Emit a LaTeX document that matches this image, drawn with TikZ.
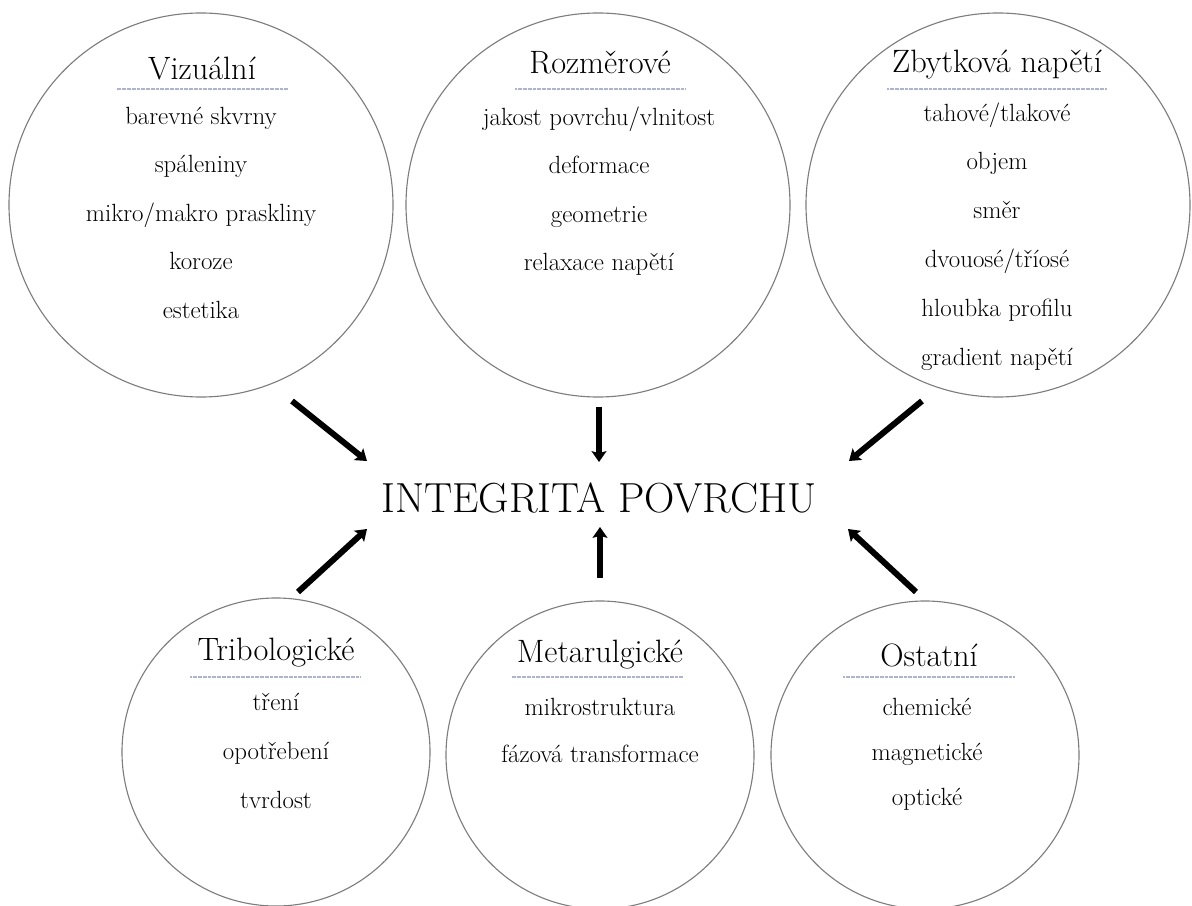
\documentclass[tikz,border=0pt]{standalone}
\usepackage{fontspec}
\usetikzlibrary{arrows.meta,positioning}

\definecolor{rim}{RGB}{125,125,125}
\definecolor{dotline}{RGB}{175,180,205}

\tikzset{
  group/.style={circle, draw=rim, line width=0.28mm, inner sep=0pt},
  heading/.style={anchor=base, font=\fontsize{23}{26}\selectfont},
  item/.style={font=\fontsize{17.7}{20}\selectfont, text height=0.7em, text depth=0.25em, inner sep=0pt},
  hub/.style={font=\fontsize{29.9}{33}\selectfont, inner sep=0pt},
  rule/.style={dotline, line width=0.3mm, dash pattern=on 0.4pt off 0.5pt},
  push/.style={line width=1.5mm, -{Stealth[length=2.7mm,width=3.7mm,inset=0.5mm]}}
}

\begin{document}
\begin{tikzpicture}[x=0.25mm, y=-0.25mm]

\useasboundingbox (0,0) rectangle (1192,906);

% the six groups
\node [group, minimum size=96mm] (viz) at (201,205) {};
\node [group, minimum size=96mm] (roz) at (598,205) {};
\node [group, minimum size=96mm] (zbyt) at (998,205) {};
\node [group, minimum size=77mm] (tri) at (276,752) {};
\node [group, minimum size=77mm] (met) at (600,755) {};
\node [group, minimum size=77mm] (ost) at (925,755) {};

% headings
\node [heading] (viz-t) at (202,80) {Vizuální};
\node [heading] (roz-t) at (600,74) {Rozměrové};
\node [heading] (zbyt-t) at (997,73) {Zbytková napětí};
\node [heading] (tri-t) at (276,660) {Tribologické};
\node [heading] (met-t) at (600,662) {Metarulgické};
\node [heading] (ost-t) at (929,666) {Ostatní};

\foreach \x/\y/\w in {202/89/171, 600/89/170, 997/89/220, 275/677/170, 597/677/171, 929/677/172}
  \draw [rule] (\x-\w/2,\y) -- (\x+\w/2,\y);

% items
\foreach \t [count=\i] in {barevné skvrny, spáleniny, mikro/makro praskliny, koroze, estetika}
  \node [item] (viz-\i) at (201,72.5+48.5*\i) {\t};

\foreach \t [count=\i] in {jakost povrchu/vlnitost, deformace, geometrie, relaxace napětí}
  \node [item] (roz-\i) at (599,73.5+48.5*\i) {\t};

\foreach \t [count=\i] in {tahové/tlakové, objem, směr, dvouosé/tříosé, hloubka profilu, gradient napětí}
  \node [item] (zbyt-\i) at (997,69.2+48.8*\i) {\t};

\foreach \t [count=\i] in {tření, opotřebení, tvrdost}
  \node [item] (tri-\i) at (276,658+49*\i) {\t};

\foreach \t [count=\i] in {mikrostruktura, fázová transformace}
  \node [item] (met-\i) at (600,665+47*\i) {\t};

\foreach \t [count=\i] in {chemické, magnetické, optické}
  \node [item] (ost-\i) at (927,667+45*\i) {\t};

% centre
\node [hub] (ip) at (599,498) {INTEGRITA POVRCHU};

% arrow ends
\coordinate (viz-o) at (292,401);  \coordinate (viz-i) at (367,461);
\coordinate (roz-o) at (599,407);  \coordinate (roz-i) at (599,462);
\coordinate (zbyt-o) at (922,401); \coordinate (zbyt-i) at (849,461);
\coordinate (tri-o) at (298,592);  \coordinate (tri-i) at (367,529);
\coordinate (met-o) at (600,578);  \coordinate (met-i) at (600,527);
\coordinate (ost-o) at (916,592);  \coordinate (ost-i) at (848,529);

\foreach \g in {viz,roz,zbyt,tri,met,ost}
  \draw [push] (\g-o) -- (\g-i);

\end{tikzpicture}
\end{document}
